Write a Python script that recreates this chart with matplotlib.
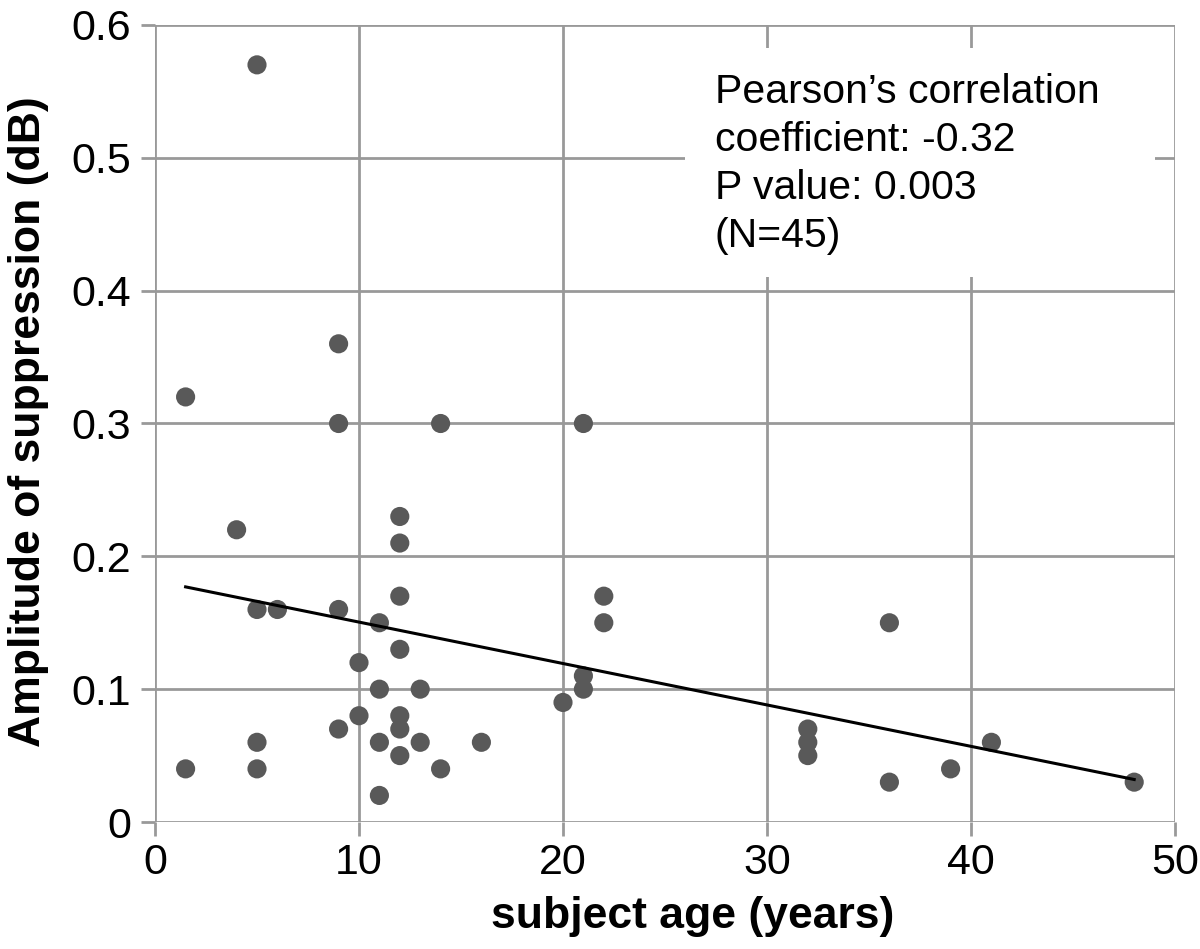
import matplotlib
matplotlib.use("Agg")
import matplotlib.pyplot as plt
import numpy as np

# Data
age = [5, 1.5, 9, 9, 14, 21, 4, 12, 12, 5, 6, 9, 12, 22, 22, 11, 36, 10, 12, 21, 21, 11, 13,
       20, 10, 12, 9, 12, 32, 32, 32, 5, 11, 13, 16, 41, 12, 1.5, 5, 14, 39, 36, 48, 11]
amp = [0.57, 0.32, 0.36, 0.30, 0.30, 0.30, 0.22, 0.23, 0.21, 0.16, 0.16, 0.16, 0.17, 0.17, 0.15,
       0.15, 0.15, 0.12, 0.13, 0.11, 0.10, 0.10, 0.10, 0.09, 0.08, 0.08, 0.07, 0.07, 0.07, 0.06,
       0.05, 0.06, 0.06, 0.06, 0.06, 0.06, 0.05, 0.04, 0.04, 0.04, 0.04, 0.03, 0.03, 0.02]
trend_x = [1.5, 48]
trend_y = [0.177, 0.032]
x_ticks = [0, 10, 20, 30, 40, 50]
y_ticks = [0, 0.1, 0.2, 0.3, 0.4, 0.5, 0.6]
y_tick_labels = ["0", "0.1", "0.2", "0.3", "0.4", "0.5", "0.6"]
annotation = "Pearson\u2019s correlation\ncoefficient: -0.32\nP value: 0.003\n(N=45)"

plt.rcParams['font.family'] = ['Liberation Sans', 'DejaVu Sans']
grid_c = '#999999'

fig = plt.figure(figsize=(12, 9.49), dpi=100)
ax = fig.add_axes([155/1200, 1-822/949, 1020/1200, 797/949])
ax.set_xlim(0, 50)
ax.set_ylim(0, 0.6)
ax.set_xticks(x_ticks)
ax.set_yticks(y_ticks)
ax.set_yticklabels(y_tick_labels)
ax.grid(True, color=grid_c, linewidth=2.0, zorder=0)
ax.set_axisbelow(True)
for s in ax.spines.values():
    s.set_visible(False)
ax.tick_params(axis='both', length=10, width=2.0, color=grid_c, labelsize=31)
ax.tick_params(axis='x', pad=5)
ax.tick_params(axis='y', pad=7)

ax.scatter(age, amp, s=190, color='#595959', edgecolors='none', zorder=3, clip_on=False)
ax.plot(trend_x, trend_y, color='black', linewidth=2.2, zorder=4)

# white box behind annotation text
ax.add_patch(plt.Rectangle((26.0, 0.41), 23.0, 0.173, facecolor='white', edgecolor='none', zorder=2))
ax.text(27.45, (822 - 247) / 1328, annotation, fontsize=29.5, va='baseline', ha='left',
        linespacing=1.33, zorder=5)

fig.text(693/1200, 1-928/949, "subject age (years)", fontsize=32, fontweight='bold',
         ha='center', va='baseline')
fig.text(29/1200, 1-422/949, "Amplitude of suppression (dB)", fontsize=32, fontweight='bold',
         ha='center', va='center', rotation=90)

fig.savefig("out.png", dpi=100)
